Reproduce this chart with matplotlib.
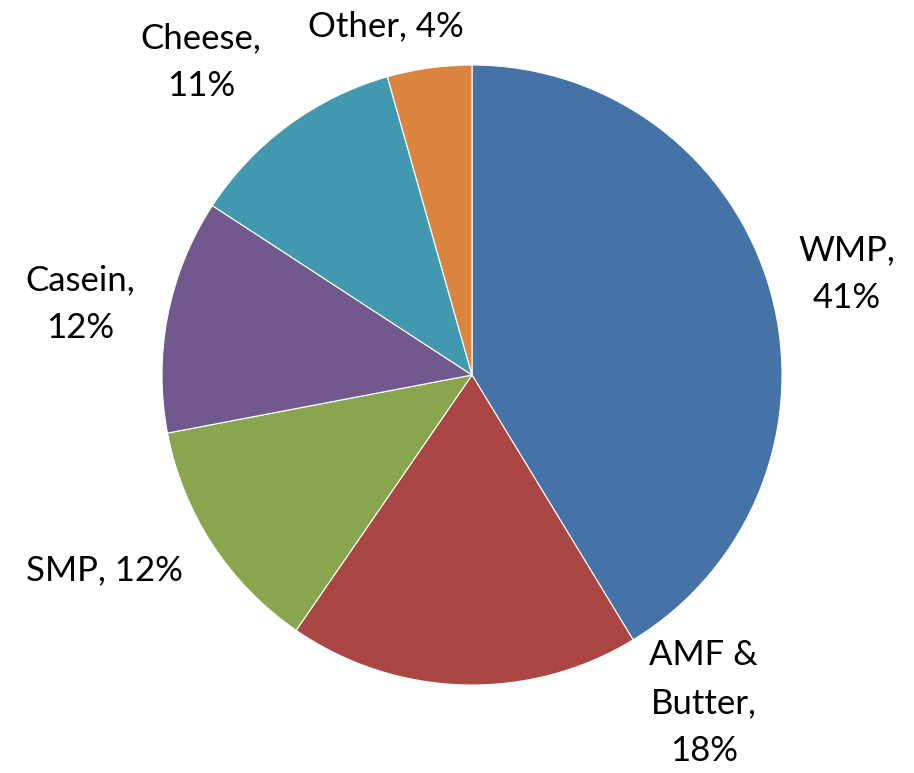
import matplotlib
matplotlib.use("Agg")
from matplotlib import pyplot as plt

# share of dairy exports by product
products = ["WMP", "AMF &\nButter", "SMP", "Casein", "Cheese", "Other"]
shares = [41.3, 18.3, 12.4, 12.2, 11.4, 4.4]
colors = ["#4572A7", "#AA4643", "#89A54E", "#71588F", "#4198AF", "#DB843D"]
# how each label wraps: text before the comma, line break or not
wrap = [True, True, False, True, True, False]
# label centres in pie-radius units
label_xy = [(1.210, 0.325), (0.748, -1.058), (-1.187, -0.630),
            (-1.265, 0.229), (-0.874, 1.010), (-0.277, 1.125)]

plt.rcParams['font.family'] = ['Lato', 'DejaVu Sans']

fig = plt.figure(figsize=(9.14, 7.73), dpi=100)
ax = fig.add_axes([0, 0, 1, 1])
ax.pie(shares, colors=colors, startangle=90, counterclock=False,
       radius=1.0, wedgeprops=dict(edgecolor="white", linewidth=0.8))

for name, val, w, (x, y) in zip(products, shares, wrap, label_xy):
    sep = ",\n" if w else ", "
    txt = "%s%s%.0f%%" % (name, sep, val)
    ax.text(x, y, txt, ha="center", va="center", fontsize=25,
            linespacing=1.6, color="black")

ax.set_xlim(-472 / 310, 442 / 310)
ax.set_ylim(-398 / 310, 375 / 310)
ax.set_aspect("equal")
ax.axis("off")

fig.savefig("out.png", dpi=100)
